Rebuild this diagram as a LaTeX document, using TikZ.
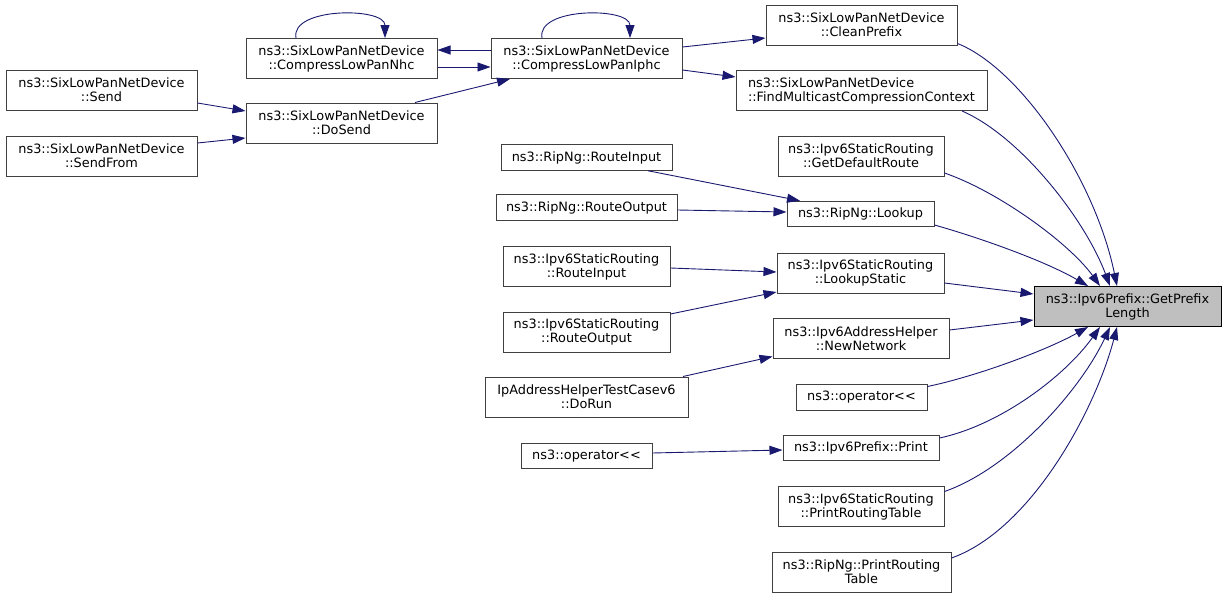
\documentclass[tikz,border=0pt]{standalone}
\usepackage{fontspec}
\setmainfont{DejaVu Sans}
\usetikzlibrary{arrows.meta,calc}
\definecolor{edgecol}{HTML}{191970}
\definecolor{boxcol}{HTML}{404040}
\definecolor{hlfill}{HTML}{BFBFBF}
\begin{document}
\begin{tikzpicture}[x=1pt,y=-1pt,
  box/.style={draw=boxcol,line width=1pt,fill=white,inner sep=0pt,align=center,
    font=\fontsize{12.86}{14}\selectfont,minimum height=40pt},
  sbox/.style={box,minimum height=25.5pt},
  hl/.style={box,draw=black,fill=hlfill},
  call/.style={draw=edgecol,line width=0.9pt,-{Triangle[length=13pt,width=9pt]}}
]
\useasboundingbox (0,0) rectangle (1227,597);
% nodes
\node[box,minimum width=191pt] (send) at (101.5,90) {ns3::SixLowPanNetDevice\\::Send};
\node[box,minimum width=191pt] (sendfrom) at (101.5,156) {ns3::SixLowPanNetDevice\\::SendFrom};
\node[box,minimum width=191pt] (dosend) at (341.5,123) {ns3::SixLowPanNetDevice\\::DoSend};
\node[box,minimum width=191pt] (nhc) at (341.5,58.5) {ns3::SixLowPanNetDevice\\::CompressLowPanNhc};
\node[box,minimum width=191pt] (iphc) at (586.5,58.5) {ns3::SixLowPanNetDevice\\::CompressLowPanIphc};
\node[box,minimum width=191pt] (clean) at (861.5,25) {ns3::SixLowPanNetDevice\\::CleanPrefix};
\node[box,minimum width=251pt,align=left] (findmc) at (861.5,90.5) {ns3::SixLowPanNetDevice\\::FindMulticastCompressionContext};
\node[box,minimum width=166pt] (getdef) at (861,156) {ns3::Ipv6StaticRouting\\::GetDefaultRoute};
\node[sbox,minimum width=171pt] (ripin) at (586.5,157.5) {ns3::RipNg::RouteInput};
\node[sbox,minimum width=181pt] (ripout) at (586.5,207.5) {ns3::RipNg::RouteOutput};
\node[sbox,minimum width=147pt] (lookup) at (860.5,214) {ns3::RipNg::Lookup};
\node[box,minimum width=167pt] (srin) at (586.5,266.5) {ns3::Ipv6StaticRouting\\::RouteInput};
\node[box,minimum width=167pt] (lookupst) at (860.5,273) {ns3::Ipv6StaticRouting\\::LookupStatic};
\node[box,minimum width=167pt] (srout) at (586.5,332) {ns3::Ipv6StaticRouting\\::RouteOutput};
\node[box,minimum width=176pt] (newnet) at (861,338.5) {ns3::Ipv6AddressHelper\\::NewNetwork};
\node[box,minimum width=203pt] (dorun) at (586.5,397) {IpAddressHelperTestCasev6\\::DoRun};
\node[sbox,minimum width=131pt] (opright) at (861.5,397.5) {ns3::operator<{}<};
\node[sbox,minimum width=156pt] (print) at (861,448) {ns3::Ipv6Prefix::Print};
\node[sbox,minimum width=131pt] (opleft) at (586.5,456) {ns3::operator<{}<};
\node[box,minimum width=166pt] (prt) at (861,506.5) {ns3::Ipv6StaticRouting\\::PrintRoutingTable};
\node[box,minimum width=179pt] (riprt) at (861.5,572) {ns3::RipNg::PrintRouting\\Table};
\node[hl,minimum width=187pt] (gpl) at (1127.5,306.5) {ns3::Ipv6Prefix::GetPrefix\\Length};
% left part
\draw[call] ([yshift=-13pt]send.east) -- ([yshift=12pt]dosend.west);
\draw[call] ([yshift=13pt]sendfrom.east) -- ([yshift=-15pt]dosend.west);
\draw[call] ([xshift=73.5pt]dosend.north) -- ([xshift=-76.5pt]iphc.south);
\draw[call] ([yshift=8.5pt]iphc.west) -- ([yshift=8.5pt]nhc.east);
\draw[call] ([yshift=-8.5pt]nhc.east) -- ([yshift=-8.5pt]iphc.west);
\draw[call] ([xshift=-45.5pt]nhc.north) .. controls +(-6,-31) and +(0,-31) .. ([xshift=43.5pt]nhc.north);
\draw[call] ([xshift=-44.5pt]iphc.north) .. controls +(-6,-31) and +(0,-31) .. ([xshift=43.5pt]iphc.north);
\draw[call] ([yshift=11.5pt]iphc.east) -- ([yshift=-13pt]clean.west);
\draw[call] ([yshift=-11.5pt]iphc.east) -- ([yshift=13.5pt]findmc.west);
\draw[call] ([xshift=61.5pt]ripin.south) -- ([xshift=-60.5pt]lookup.north);
\draw[call] ([yshift=-2.5pt]ripout.east) -- ([yshift=2pt]lookup.west);
\draw[call] ([yshift=-1.5pt]srin.east) -- ([yshift=1pt]lookupst.west);
\draw[call] ([yshift=18pt]srout.east) -- ([yshift=-19pt]lookupst.west);
\draw[call] ([xshift=96.5pt]dorun.north) -- ([yshift=-18pt]newnet.west);
\draw[call] ([yshift=3pt]opleft.east) -- ([yshift=-2pt]print.west);
% to GetPrefixLength
\draw[call] ([yshift=2pt]clean.south east) .. controls +(63,25) and +(-22,-107) .. ([xshift=-10.5pt]gpl.north);
\draw[call] ([xshift=100.5pt]findmc.south) .. controls +(58,25) and +(-25,-67) .. ([xshift=-17.5pt]gpl.north);
\draw[call] ([yshift=-17pt]getdef.east) .. controls +(55,19) and +(-30,-42) .. ([xshift=-27.5pt]gpl.north);
\draw[call] ([yshift=-11pt]lookup.east) .. controls +(46,13) and +(-43,-25) .. ([xshift=-39.5pt]gpl.north);
\draw[call] ([yshift=-10pt]lookupst.east) -- ([yshift=12.5pt]gpl.west);
\draw[call] ([yshift=8.5pt]newnet.east) -- ([yshift=-13.5pt]gpl.west);
\draw[call] ([yshift=11pt]opright.east) .. controls +(48,-10) and +(-43,24) .. ([xshift=-39.5pt]gpl.south);
\draw[call] ([yshift=10pt]print.east) .. controls +(61,-13) and +(-35,49) .. ([xshift=-27.5pt]gpl.south);
\draw[call] ([yshift=15pt]prt.east) .. controls +(66,-23) and +(-30,64) .. ([xshift=-17.5pt]gpl.south);
\draw[call] ([yshift=14pt]riprt.east) .. controls +(79,-28) and +(-22,84) .. ([xshift=-10.5pt]gpl.south);
\end{tikzpicture}
\end{document}
